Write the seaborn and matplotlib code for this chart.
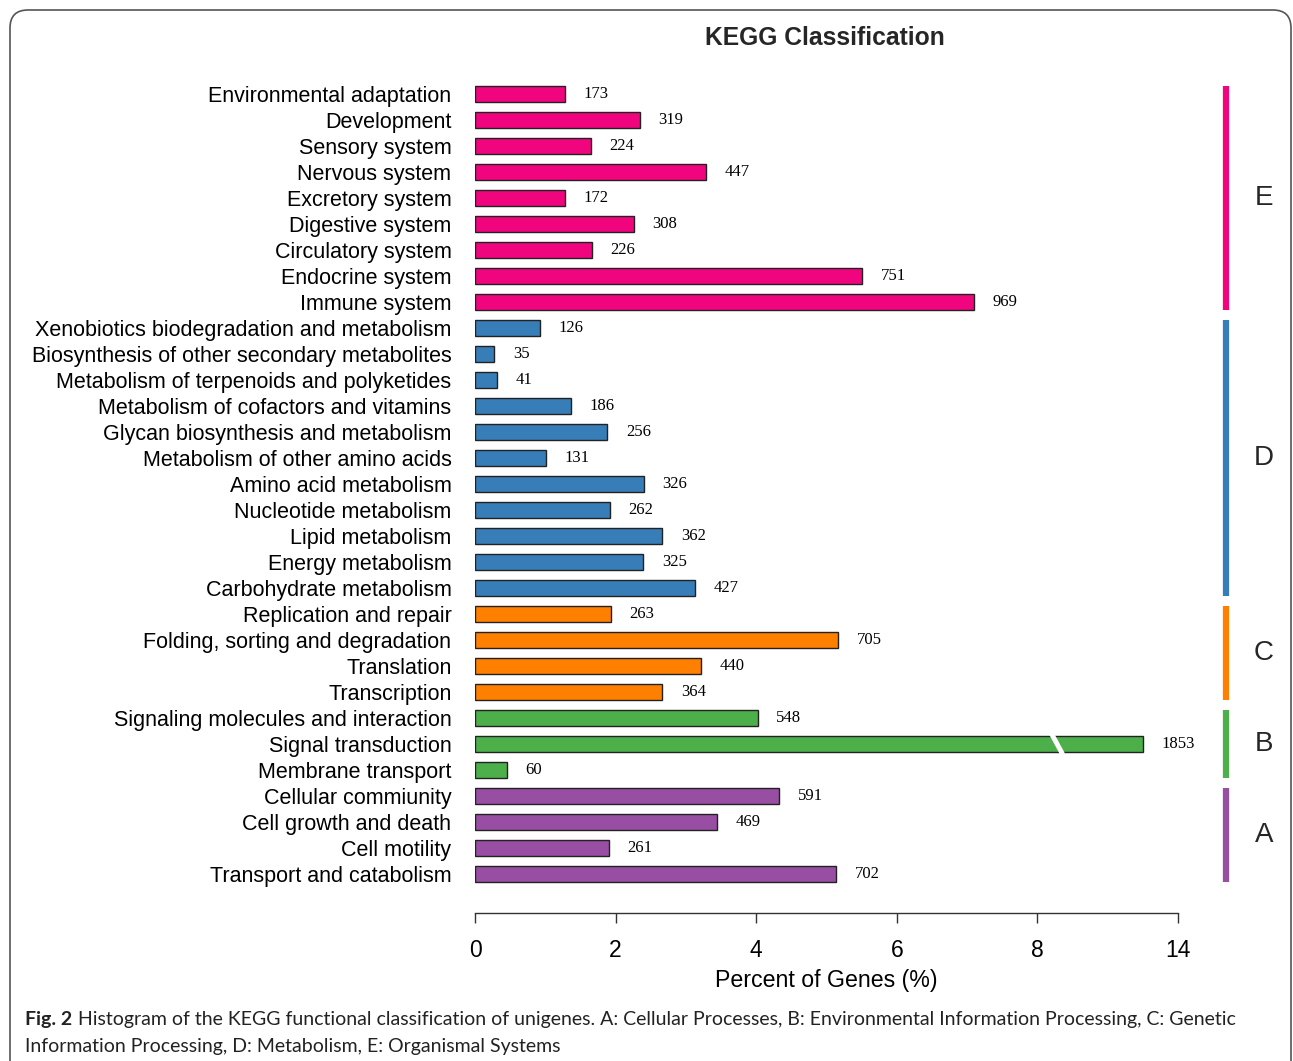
import matplotlib
matplotlib.use("Agg")
import matplotlib.pyplot as plt
import matplotlib.transforms as mtransforms
from matplotlib.patches import FancyBboxPatch
import seaborn as sns
import pandas as pd

sns.set_theme(style="white")
plt.rcParams["font.family"] = ["Liberation Sans", "DejaVu Sans"]

# categories, top to bottom
categories = [
    "Environmental adaptation", "Development", "Sensory system", "Nervous system",
    "Excretory system", "Digestive system", "Circulatory system", "Endocrine system",
    "Immune system",
    "Xenobiotics biodegradation and metabolism", "Biosynthesis of other secondary metabolites",
    "Metabolism of terpenoids and polyketides", "Metabolism of cofactors and vitamins",
    "Glycan biosynthesis and metabolism", "Metabolism of other amino acids",
    "Amino acid metabolism", "Nucleotide metabolism", "Lipid metabolism",
    "Energy metabolism", "Carbohydrate metabolism",
    "Replication and repair", "Folding, sorting and degradation", "Translation", "Transcription",
    "Signaling molecules and interaction", "Signal transduction", "Membrane transport",
    "Cellular commiunity", "Cell growth and death", "Cell motility", "Transport and catabolism",
]
groups = ["E"] * 9 + ["D"] * 11 + ["C"] * 4 + ["B"] * 3 + ["A"] * 4
gene_counts = [173, 319, 224, 447, 172, 308, 226, 751, 969,
               126, 35, 41, 186, 256, 131, 326, 262, 362, 325, 427,
               263, 705, 440, 364,
               548, 1853, 60,
               591, 469, 261, 702]
percent = [1.28, 2.34, 1.65, 3.28, 1.28, 2.26, 1.66, 5.50, 7.10,
           0.92, 0.27, 0.31, 1.36, 1.88, 1.01, 2.40, 1.92, 2.66, 2.39, 3.13,
           1.93, 5.17, 3.22, 2.66,
           4.02, 13.5, 0.45,
           4.33, 3.44, 1.90, 5.14]

group_colors = {"E": "#F0057F", "D": "#377EB8", "C": "#FF7F00", "B": "#4DAF4A", "A": "#984EA3"}
group_order = ["E", "D", "C", "B", "A"]

tick_values = [0, 2, 4, 6, 8, 14]

# broken x axis: values above 8 are shifted left by 4
BREAK_AT = 8.0
BREAK_GAP = 4.0


def to_axis(v):
    return v if v <= BREAK_AT else v - BREAK_GAP


df = pd.DataFrame({"category": categories, "group": groups,
                   "count": gene_counts, "percent": percent})
df["plotted"] = df["percent"].apply(to_axis)

fig = plt.figure(figsize=(12.93, 10.61), dpi=100)
W, H = 1293, 1061
ax = fig.add_axes([475 / W, 1 - 913 / H, (1178 - 475) / W, (913 - 80) / H])

sns.barplot(data=df, y="category", x="plotted", hue="group", palette=group_colors,
            hue_order=group_order, dodge=False, orient="h", width=0.62, saturation=1,
            edgecolor="#222222", linewidth=1.0, legend=False, ax=ax)

ax.set_xlim(0, 10)
ax.set_ylim(len(categories) - 1 + 1.5, -0.54)
sns.despine(ax=ax, left=True, top=True, right=True)
ax.spines["bottom"].set_color("#333333")
ax.spines["bottom"].set_linewidth(1.0)
ax.set_xticks([to_axis(t) for t in tick_values])
ax.set_xticklabels([str(t) for t in tick_values])
ax.tick_params(axis="x", bottom=True, length=7, width=1.0, color="#333333",
               labelsize=16.5, pad=12, labelcolor="black")
ax.tick_params(axis="y", left=False, length=0, pad=17, labelsize=15.5, labelcolor="black")
ax.set_ylabel("")
ax.set_xlabel("Percent of Genes (%)", fontsize=16.7, labelpad=5, color="black")
ax.grid(False)

# count labels
for i, row in df.iterrows():
    ax.annotate(str(row["count"]), xy=(row["plotted"], i), xytext=(13.5, 0),
                textcoords="offset points", ha="left", va="center",
                fontsize=12, family="Liberation Serif", color="black")

# break mark on the long bar
bi = categories.index("Signal transduction")
ax.plot([8.2, 8.36], [bi - 0.4, bi + 0.4], color="white", lw=3.5,
        solid_capstyle="butt", zorder=5)

# group brackets on the right
for g in group_order:
    idx = [i for i, gg in enumerate(groups) if gg == g]
    ax.plot([10.68, 10.68], [idx[0] - 0.3, idx[-1] + 0.3], color=group_colors[g],
            lw=4.5, clip_on=False, solid_capstyle="butt")
    ax.text(11.22, (idx[0] + idx[-1]) / 2, g, fontsize=20, ha="center", va="center",
            clip_on=False)

fig.text(825 / W, 1 - 38 / H, "KEGG Classification", fontsize=17.7, fontweight="bold",
         ha="center", va="center")

# caption
cap_font = ["Lato", "DejaVu Sans"]
t1 = fig.text(25 / W, 1 - 1025 / H, "Fig. 2", fontsize=14, fontweight="bold",
              family=cap_font, color="#222222", ha="left", va="baseline")
ax.annotate("Histogram of the KEGG functional classification of unigenes. A: Cellular Processes, "
            "B: Environmental Information Processing, C: Genetic",
            xy=(1, 0), xycoords=t1, xytext=(4, 0), textcoords="offset points",
            fontsize=14, family=cap_font, color="#222222", ha="left", va="bottom",
            annotation_clip=False)
fig.text(25 / W, 1 - 1052 / H, "Information Processing, D: Metabolism, E: Organismal Systems",
         fontsize=14, family=cap_font, color="#222222", ha="left", va="baseline")

# rounded frame around the figure
frame = FancyBboxPatch((10, -30), 1281, 1081,
                       boxstyle="round,pad=0,rounding_size=18",
                       transform=mtransforms.IdentityTransform(),
                       fill=False, edgecolor="#555555", lw=1.2)
fig.patches.append(frame)

fig.savefig("out.png", dpi=100)
